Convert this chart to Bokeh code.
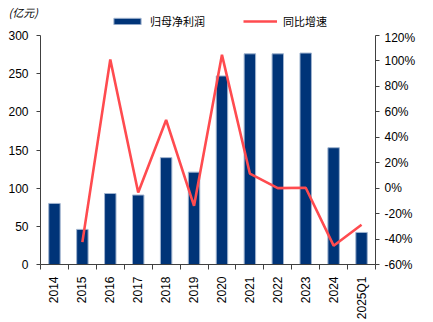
from bokeh.plotting import figure
from bokeh.layouts import column
from bokeh.models import (Range1d, LinearAxis, FixedTicker, Legend, LegendItem,
                          Label, CustomJSTickFormatter)
from bokeh.embed import file_html
from bokeh.resources import INLINE
import math

categories = ["2014", "2015", "2016", "2017", "2018", "2019", "2020", "2021",
              "2022", "2023", "2024", "2025Q1"]
profit = [80, 46, 93, 91, 140, 121, 247, 276, 276, 277, 153, 42]
growth = [None, -42.4, 101.2, -3.4, 53.6, -13.9, 104.8, 11.5, 0.0, 0.3, -45.2, -28.8]
series_names = ["归母净利润", "同比增速"]
unit_text = "(亿元)"

xs = [i + 0.5 for i in range(len(categories))]

BAR = "#003478"
BAR_EDGE = "#9FB3CF"
LINE = "#FF4B4F"
FONT = "Liberation Sans"
CJK = "Noto Sans CJK SC"
AX = "#404040"

# ---------------- header strip (unit + legend) ----------------
top = figure(width=433, height=30, output_backend="svg", toolbar_location=None,
             x_range=Range1d(0, 1), y_range=Range1d(0, 1),
             min_border=0, x_axis_type=None, y_axis_type=None)
top.frame_align = False
top.outline_line_color = None
top.grid.visible = False
# legend-only renderers, kept outside the visible range of this strip
lb = top.vbar(x=[5], top=[5], bottom=[4], width=0.4, fill_color=BAR, line_color=BAR_EDGE)
ll = top.line(x=[5, 6], y=[5, 5], line_color=LINE, line_width=2.6)
legend = Legend(items=[LegendItem(label=series_names[0], renderers=[lb]),
                       LegendItem(label=series_names[1], renderers=[ll])],
                orientation="horizontal", location=(110, 1),
                background_fill_alpha=0, border_line_color=None,
                label_text_font=CJK, label_text_font_size="11px",
                label_text_color="black",
                label_height=12, label_width=60, glyph_width=34, glyph_height=8,
                spacing=33, padding=0, label_standoff=6, margin=0)
top.add_layout(legend, "center")
top.add_layout(Label(x=8, y=11, x_units="screen", y_units="screen", text=unit_text,
                     text_font=CJK, text_font_size="11px", text_color="black",
                     text_font_style="italic"))

# ---------------- main chart ----------------
p = figure(width=433, height=292, output_backend="svg", toolbar_location=None,
           x_range=Range1d(0, len(categories)), y_range=Range1d(0, 300),
           min_border_left=40, min_border_right=58, min_border_top=5,
           min_border_bottom=57, x_axis_type=None, y_axis_type=None)
p.frame_align = False
p.outline_line_color = None
p.grid.visible = False
p.background_fill_color = "white"
p.border_fill_color = "white"

p.extra_y_ranges = {"pct": Range1d(-60, 120)}

p.vbar(x=xs, top=profit, width=0.41, fill_color=BAR, line_color=BAR_EDGE, line_width=1)
gx = [x for x, g in zip(xs, growth) if g is not None]
gy = [g for g in growth if g is not None]
p.line(gx, gy, y_range_name="pct", line_color=LINE, line_width=2.6)

# x axis
xa = LinearAxis(ticker=FixedTicker(ticks=xs, minor_ticks=list(range(len(categories) + 1))),
                major_label_overrides={x: c for x, c in zip(xs, categories)})
xa.major_tick_line_color = None
xa.minor_tick_in = 0
xa.minor_tick_out = 5
xa.minor_tick_line_color = AX
xa.axis_line_color = AX
xa.major_label_orientation = math.pi / 2
xa.major_label_text_font = FONT
xa.major_label_text_font_size = "12px"
xa.major_label_text_color = "black"
xa.major_label_standoff = 6
p.add_layout(xa, "below")

# left axis
ya = LinearAxis(ticker=FixedTicker(ticks=[0, 50, 100, 150, 200, 250, 300]))
ya.major_tick_in = 0
ya.major_tick_out = 4
ya.minor_tick_line_color = None
ya.major_tick_line_color = AX
ya.axis_line_color = AX
ya.major_label_text_font = FONT
ya.major_label_text_font_size = "12px"
ya.major_label_text_color = "black"
ya.major_label_standoff = 8
p.add_layout(ya, "left")

# right axis
yr = LinearAxis(y_range_name="pct",
                ticker=FixedTicker(ticks=[-60, -40, -20, 0, 20, 40, 60, 80, 100, 120]),
                formatter=CustomJSTickFormatter(code="return tick.toFixed(0) + '%';"))
yr.major_tick_in = 0
yr.major_tick_out = 4
yr.minor_tick_line_color = None
yr.major_tick_line_color = AX
yr.axis_line_color = AX
yr.major_label_text_font = FONT
yr.major_label_text_font_size = "12px"
yr.major_label_text_color = "black"
yr.major_label_standoff = 5
p.add_layout(yr, "right")

layout = column(top, p, spacing=0)
open("out.html", "w").write(file_html(layout, INLINE))
